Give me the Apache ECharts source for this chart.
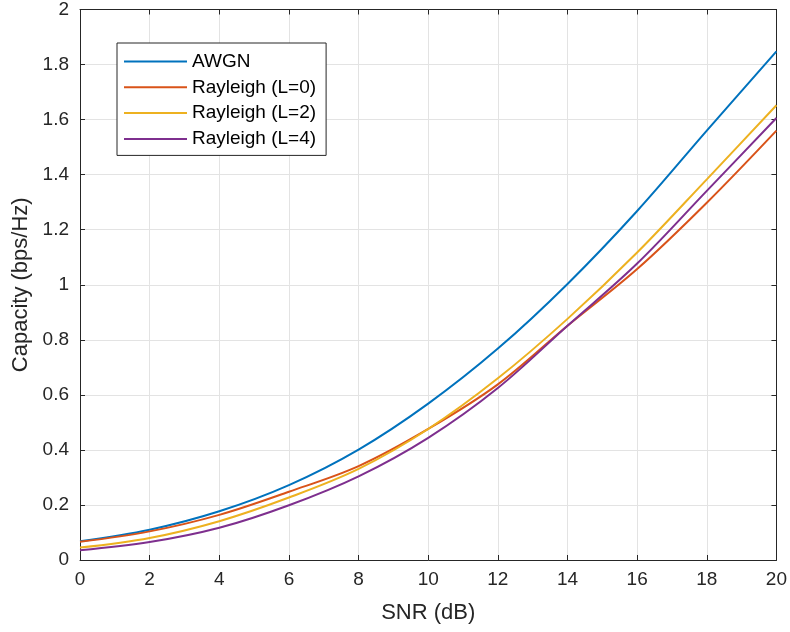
<!DOCTYPE html>
<html>
<head>
<meta charset="utf-8">
<script src="https://cdn.jsdelivr.net/npm/echarts@6/dist/echarts.min.js"></script>
<style>
  html, body { margin: 0; padding: 0; background: #ffffff; }
  #chart { width: 790px; height: 632px; }
</style>
</head>
<body>
<div id="chart"></div>
<script>
// SNR in dB
const snr = [0, 2, 4, 6, 8, 10, 12, 14, 16, 18, 20];
// Capacity (bps/Hz) per channel model
const awgn = [0.068, 0.110, 0.177, 0.272, 0.401, 0.568, 0.768, 1.003, 1.268, 1.560, 1.848];
const rayleighL0 = [0.066, 0.104, 0.164, 0.248, 0.341, 0.476, 0.638, 0.851, 1.057, 1.298, 1.560];
const rayleighL2 = [0.045, 0.080, 0.141, 0.227, 0.331, 0.476, 0.660, 0.876, 1.117, 1.383, 1.652];
const rayleighL4 = [0.035, 0.065, 0.117, 0.199, 0.304, 0.444, 0.625, 0.851, 1.077, 1.341, 1.606];

const seriesNames = ['AWGN', 'Rayleigh (L=0)', 'Rayleigh (L=2)', 'Rayleigh (L=4)'];
const seriesValues = [awgn, rayleighL0, rayleighL2, rayleighL4];
const colors = ['#0072BD', '#D95319', '#EDB120', '#7E2F8E'];

const FONT = '"Liberation Sans", Arial, Helvetica, sans-serif';
const INK = '#262626';
const GRID = '#e3e3e3';

const pairs = vals => snr.map((s, i) => [s, vals[i]]);

const chart = echarts.init(document.getElementById('chart'), null, { renderer: 'canvas' });

// plain box edges on top and right, ticks pointing inward
const frameAxis = {
  axisLine: { show: true, onZero: false, lineStyle: { color: INK, width: 1 } },
  axisTick: { show: true, inside: true, length: 5, lineStyle: { color: INK, width: 1 } },
  axisLabel: { show: false },
  splitLine: { show: false }
};

chart.setOption({
  animation: false,
  backgroundColor: '#ffffff',
  color: colors,
  grid: { left: 80, right: 11, top: 8, bottom: 72, containLabel: false },
  legend: {
    orient: 'vertical',
    left: 117,
    top: 43,
    padding: [9, 10, 7, 7],
    icon: 'rect',
    itemWidth: 63,
    itemHeight: 2,
    itemGap: 6.8,
    backgroundColor: '#ffffff',
    borderColor: INK,
    borderWidth: 1,
    borderRadius: 0,
    textStyle: { fontFamily: FONT, fontSize: 19, lineHeight: 19, color: '#000000' },
    data: seriesNames
  },
  xAxis: [
    {
      type: 'value', min: 0, max: 20, interval: 2,
      name: 'SNR (dB)', nameLocation: 'middle', nameGap: 42,
      nameTextStyle: { fontFamily: FONT, fontSize: 22, color: INK },
      axisLine: { show: true, onZero: false, lineStyle: { color: INK, width: 1 } },
      axisTick: { show: true, inside: true, length: 5, lineStyle: { color: INK, width: 1 } },
      axisLabel: { fontFamily: FONT, fontSize: 19, color: INK, margin: 10 },
      splitLine: { show: true, lineStyle: { color: GRID, width: 1 } }
    },
    Object.assign({ type: 'value', min: 0, max: 20, interval: 2, position: 'top' }, frameAxis)
  ],
  yAxis: [
    {
      type: 'value', min: 0, max: 2, interval: 0.2,
      name: 'Capacity (bps/Hz)', nameLocation: 'middle', nameGap: 47,
      nameTextStyle: { fontFamily: FONT, fontSize: 22, color: INK },
      axisLine: { show: true, onZero: false, lineStyle: { color: INK, width: 1 } },
      axisTick: { show: true, inside: true, length: 5, lineStyle: { color: INK, width: 1 } },
      axisLabel: { fontFamily: FONT, fontSize: 19, color: INK, margin: 11,
        formatter: v => String(Math.round(v * 10) / 10) },
      splitLine: { show: true, lineStyle: { color: GRID, width: 1 } }
    },
    Object.assign({ type: 'value', min: 0, max: 2, interval: 0.2, position: 'right' }, frameAxis)
  ],
  series: seriesNames.map((name, i) => ({
    name: name,
    type: 'line',
    data: pairs(seriesValues[i]),
    smooth: 0.35,
    symbol: 'none',
    showSymbol: false,
    clip: true,
    lineStyle: { color: colors[i], width: 2 },
    itemStyle: { color: colors[i] },
    z: 3 + i
  }))
});
</script>
</body>
</html>
